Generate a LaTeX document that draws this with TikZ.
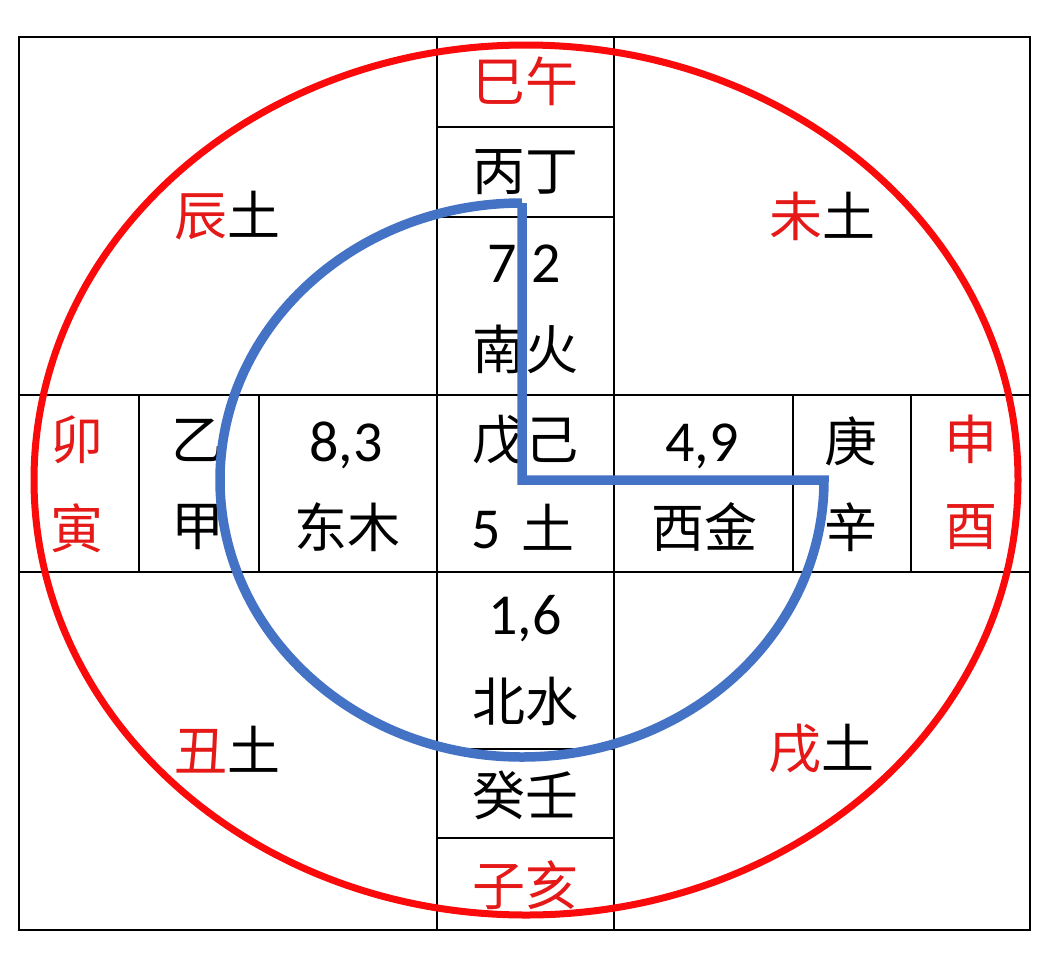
\documentclass[tikz,border=0pt]{standalone}
\usepackage{fontspec}
\newfontfamily\cjk{Noto Sans CJK SC}
\newfontfamily\num{Carlito}
\definecolor{ublue}{RGB}{68,114,196}
\definecolor{ured}{RGB}{250,10,10}
\definecolor{tred}{RGB}{230,25,25}
\begin{document}
\begin{tikzpicture}[x=1pt,y=-1pt,
  gridline/.style={line width=2.2pt,black},
  cj/.style={font=\cjk\fontsize{53}{60}\selectfont, inner sep=0pt, anchor=center},
  rd/.style={cj,text=tred},
  nm/.style={font=\num\fontsize{58}{64}\selectfont, inner sep=0pt, anchor=base},
  redring/.style={draw=ured,line width=7pt},
  bluepath/.style={draw=ublue,line width=9.5pt,line join=miter}]
\fill[white] (0,0) rectangle (1054,956);
\useasboundingbox (0,0) rectangle (1054,956);
% grid
\draw[gridline] (19,37) rectangle (1030,930);
\draw[gridline] (437,37) -- (437,930);
\draw[gridline] (614,37) -- (614,930);
\draw[gridline] (19,395) -- (1030,395);
\draw[gridline] (19,572) -- (1030,572);
\foreach \yy in {127,217,749,838} \draw[gridline] (437,\yy) -- (614,\yy);
\foreach \xx in {139,259,793,911} \draw[gridline] (\xx,395) -- (\xx,572);
% centre column
\node[rd] (siwu) at (525,81) {巳午};
\node[cj] (bingding) at (525,172) {丙丁};
\node[nm] (n72) at (524,282) {7,2};
\node[cj] (nanhuo) at (525,349) {南火};
\node[cj] (wuji) at (525,440) {戊己};
\node[cj] (tu5) at (523,527) {{\num\fontsize{58}{64}\selectfont 5}\hspace{20pt}土};
\node[nm] (n16) at (525,634) {1,6};
\node[cj] (beishui) at (525,701) {北水};
\node[cj] (guiren) at (525,795) {癸壬};
\node[rd] (zihai) at (525,885) {子亥};
% left
\node[rd] (mao) at (77,440) {卯};
\node[rd] (yin) at (77,528) {寅};
\node[cj] (yi) at (198,440) {乙};
\node[cj] (jia) at (198,527) {甲};
\node[nm] (n83) at (346,461) {8,3};
\node[cj] (dongmu) at (347,527) {东木};
% right
\node[nm] (n49) at (702,461) {4,9};
\node[cj] (xijin) at (704,527) {西金};
\node[cj] (geng) at (851,441) {庚};
\node[cj] (xin) at (851,527) {辛};
\node[rd] (shen) at (971,439) {申};
\node[rd] (you) at (971,527) {酉};
% corners
\node[cj] (chen) at (227,216) {\color{tred}辰\color{black}土};
\node[cj] (wei) at (822,216) {\color{tred}未\color{black}土};
\node[cj] (chou) at (227,750) {\color{tred}丑\color{black}土};
\node[cj] (xu) at (821,749) {\color{tred}戌\color{black}土};
% red ring
\draw[redring] (526,480) ellipse [x radius=492pt, y radius=435pt];
% blue three-quarter shape
\coordinate (ctr) at (522,480);
\coordinate (rt) at (824,480);
\coordinate (tp) at (522,203);
\draw[bluepath] (tp) -- (ctr) -- (rt) arc [start angle=0, end angle=-270, x radius=302pt, y radius=277pt];
\end{tikzpicture}
\end{document}
